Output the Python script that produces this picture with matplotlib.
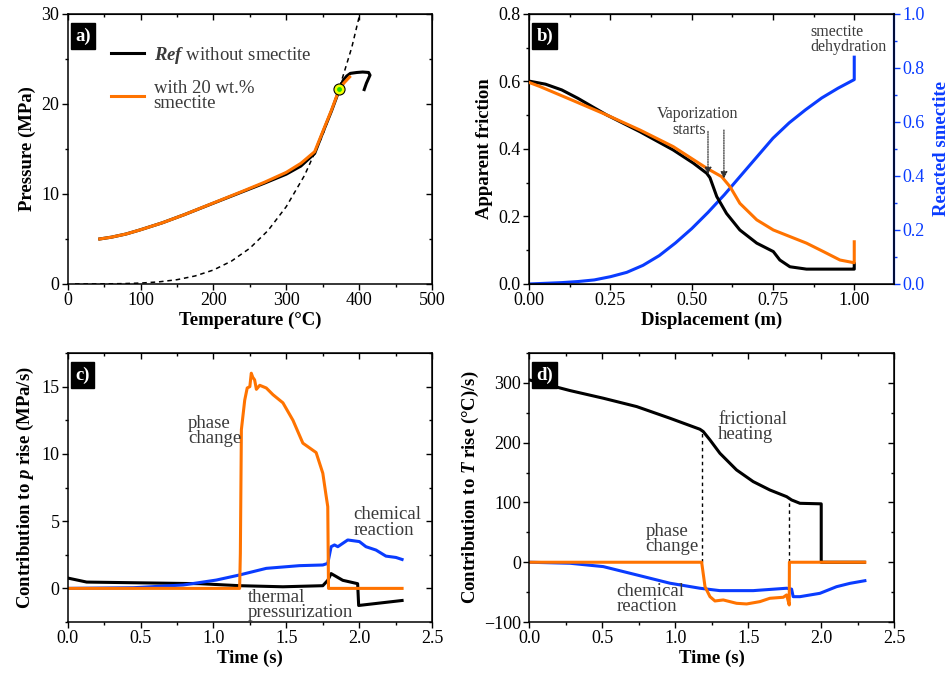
import matplotlib
matplotlib.use("Agg")
import matplotlib.pyplot as plt
from matplotlib.ticker import MultipleLocator, FormatStrFormatter

plt.rcParams["font.family"] = ["Liberation Serif", "DejaVu Serif"]
plt.rcParams["mathtext.fontset"] = "custom"
plt.rcParams["mathtext.rm"] = "Liberation Serif"
plt.rcParams["mathtext.it"] = "Liberation Serif:italic"
plt.rcParams["mathtext.bf"] = "Liberation Serif:bold"
plt.rcParams["mathtext.bfit"] = "Liberation Serif:bold:italic"

ORANGE = "#ff7300"
BLUE = "#0a3cff"
TXT = "#3a3a3a"

# ---- panel a: pressure vs temperature ----
a_ref_T = [44, 60, 80, 99, 130, 160, 200, 240, 270, 300, 320, 339, 350, 362, 373, 378,
           383, 388, 397, 405, 413, 415, 410, 407]
a_ref_P = [5.0, 5.2, 5.55, 6.0, 6.8, 7.7, 8.98, 10.25, 11.2, 12.2, 13.1, 14.5, 16.8, 19.2,
           21.6, 22.6, 23.1, 23.4, 23.5, 23.55, 23.5, 23.2, 22.3, 21.6]
a_sme_T = [44, 60, 80, 99, 130, 160, 200, 240, 270, 300, 320, 339, 350, 362, 373, 380, 387]
a_sme_P = [5.0, 5.2, 5.55, 6.0, 6.8, 7.7, 9.0, 10.3, 11.3, 12.4, 13.4, 14.7, 16.9, 19.3,
           21.7, 22.4, 23.0]
a_sat_T = [10, 25, 50, 75, 100, 125, 150, 175, 200, 225, 250, 275, 300, 325, 350, 374, 390, 401]
a_sat_P = [0.0, 0.003, 0.012, 0.039, 0.101, 0.232, 0.476, 0.892, 1.55, 2.55, 3.97, 5.94,
           8.59, 12.05, 16.53, 22.06, 26.3, 30.0]
a_dot = (373, 21.7)

# ---- panel b: friction & reacted smectite vs displacement ----
b_ref_d = [0.0, 0.05, 0.1, 0.15, 0.2, 0.238, 0.341, 0.443, 0.505, 0.546, 0.556, 0.577, 0.607,
           0.648, 0.700, 0.751, 0.771, 0.802, 0.853, 0.999, 1.0, 1.0]
b_ref_f = [0.601, 0.592, 0.575, 0.550, 0.522, 0.501, 0.451, 0.397, 0.358, 0.328, 0.315, 0.259,
           0.209, 0.160, 0.121, 0.096, 0.071, 0.051, 0.044, 0.044, 0.044, 0.06]
b_sme_d = [0.0, 0.033, 0.136, 0.238, 0.341, 0.443, 0.546, 0.592, 0.618, 0.648, 0.700, 0.751,
           0.853, 0.905, 0.956, 0.999, 1.0, 1.0]
b_sme_f = [0.597, 0.585, 0.543, 0.501, 0.456, 0.407, 0.343, 0.318, 0.288, 0.239, 0.190,
           0.160, 0.121, 0.096, 0.071, 0.063, 0.063, 0.125]
b_rea_d = [0.0, 0.1, 0.15, 0.2, 0.25, 0.3, 0.35, 0.4, 0.45, 0.5, 0.55, 0.6, 0.65, 0.7, 0.75,
           0.8, 0.85, 0.9, 0.95, 1.0, 1.0]
b_rea_r = [0.0, 0.005, 0.009, 0.015, 0.027, 0.043, 0.069, 0.105, 0.152, 0.205, 0.265, 0.33,
           0.40, 0.47, 0.54, 0.597, 0.645, 0.689, 0.725, 0.757, 0.84]
b_vap_d = [0.550, 0.599]
b_vap_top = [0.452, 0.456]
b_vap_bot = [0.325, 0.312]

# ---- panel c: contribution to p rise ----
c_tp_t = [0.0, 0.13, 0.45, 0.906, 1.18, 1.477, 1.751, 1.785, 1.808, 1.888, 1.99, 1.997, 2.295]
c_tp_v = [0.77, 0.47, 0.42, 0.35, 0.2, 0.12, 0.2, 0.6, 1.1, 0.6, 0.35, -1.27, -0.9]
c_ph_t = [0.0, 1.180, 1.185, 1.192, 1.215, 1.232, 1.250, 1.260, 1.270, 1.283, 1.295, 1.318,
          1.363, 1.409, 1.477, 1.546, 1.614, 1.705, 1.751, 1.772, 1.785, 1.790, 2.295]
c_ph_v = [0.0, 0.0, 2.6, 11.8, 14.0, 14.9, 15.0, 16.0, 15.7, 15.5, 14.8, 15.1, 14.9, 14.4,
          13.8, 12.5, 10.8, 10.1, 8.56, 7.0, 6.07, 0.0, 0.0]
c_ch_t = [0.0, 0.45, 0.792, 1.02, 1.18, 1.363, 1.59, 1.751, 1.785, 1.808, 1.831, 1.854, 1.922,
          2.002, 2.047, 2.116, 2.184, 2.253, 2.295]
c_ch_v = [0.0, 0.05, 0.25, 0.62, 1.0, 1.49, 1.69, 1.74, 1.86, 3.10, 3.23, 3.1, 3.6, 3.48, 3.1,
          2.85, 2.4, 2.3, 2.15]

# ---- panel d: contribution to T rise ----
d_fh_t = [0.0, 0.279, 0.507, 0.736, 0.964, 1.169, 1.192, 1.238, 1.306, 1.420, 1.534, 1.648,
          1.763, 1.797, 1.854, 2.0, 2.0, 2.295]
d_fh_v = [305.0, 287.2, 274.4, 260.4, 240.9, 222.5, 218.6, 204.6, 182.3, 154.4, 134.9, 120.9,
          109.7, 104.2, 98.6, 97.7, 0.0, 0.0]
d_ph_t = [0.0, 1.181, 1.204, 1.238, 1.272, 1.329, 1.420, 1.489, 1.580, 1.648, 1.740, 1.763,
          1.781, 1.782, 2.299]
d_ph_v = [0.0, 0.0, -40.9, -57.6, -64.8, -63.1, -68.7, -69.8, -65.9, -60.3, -58.6, -54.7,
          -71.5, 0.0, 0.0]
d_ch_t = [0.0, 0.279, 0.507, 0.736, 0.964, 1.169, 1.306, 1.534, 1.763, 1.797, 1.808, 1.854,
          1.991, 2.105, 2.197, 2.299]
d_ch_v = [0.0, -1.7, -7.3, -21.2, -35.1, -43.5, -47.5, -47.5, -43.5, -45.0, -57.6, -57.6,
          -52.0, -40.9, -35.3, -30.9]
d_lines_t = [1.18, 1.78]
d_lines_top = [220, 106]

FS_TICK = 13
FS_LAB = 13.5
FS_NOTE = 13.5


def style_axis(ax, xmaj, xmin, ymaj, ymin, right=True):
    ax.xaxis.set_major_locator(MultipleLocator(xmaj))
    ax.xaxis.set_minor_locator(MultipleLocator(xmin))
    ax.yaxis.set_major_locator(MultipleLocator(ymaj))
    ax.yaxis.set_minor_locator(MultipleLocator(ymin))
    ax.tick_params(which="major", direction="out", length=4, width=1, labelsize=FS_TICK, pad=2)
    ax.tick_params(which="minor", direction="out", length=2.5, width=1)
    for s in ax.spines.values():
        s.set_linewidth(1.1)
    top = ax.secondary_xaxis("top")
    top.xaxis.set_major_locator(MultipleLocator(xmaj))
    top.xaxis.set_minor_locator(MultipleLocator(xmin))
    top.tick_params(which="major", direction="in", length=4, width=1, labeltop=False)
    top.tick_params(which="minor", direction="in", length=2.5, width=1)
    if right:
        rt = ax.secondary_yaxis("right")
        rt.yaxis.set_major_locator(MultipleLocator(ymaj))
        rt.yaxis.set_minor_locator(MultipleLocator(ymin))
        rt.tick_params(which="major", direction="in", length=4, width=1, labelright=False)
        rt.tick_params(which="minor", direction="in", length=2.5, width=1)


def panel_tag(ax, s):
    ax.text(0.02, 0.95, s, transform=ax.transAxes, ha="left", va="top", color="white",
            fontsize=13.5, fontweight="bold",
            bbox=dict(facecolor="black", edgecolor="black", boxstyle="square,pad=0.22"))


fig = plt.figure(figsize=(9.51, 6.75), dpi=100)
ax_a = fig.add_axes([0.0712, 0.5793, 0.3830, 0.4000])
ax_b = fig.add_axes([0.5565, 0.5793, 0.3838, 0.4000])
ax_c = fig.add_axes([0.0712, 0.0785, 0.3830, 0.3985])
ax_d = fig.add_axes([0.5565, 0.0785, 0.3838, 0.3985])

# a)
ax_a.plot(a_sat_T, a_sat_P, color="black", lw=1.1, ls=(0, (3, 2.5)))
ax_a.plot(a_ref_T, a_ref_P, color="black", lw=2.2, label=r"$\mathbfit{Ref}$ without smectite")
ax_a.plot(a_sme_T, a_sme_P, color=ORANGE, lw=2.2, label="with 20 wt.%\nsmectite")
ax_a.plot(*a_dot, "o", ms=8, mfc="#f0ff00", mec="black", mew=0.8)
ax_a.plot(*a_dot, "o", ms=3.5, mfc="#22dd00", mec="none")
ax_a.set_xlim(0, 500)
ax_a.set_ylim(0, 30)
ax_a.set_xlabel("Temperature (°C)", fontsize=FS_LAB, fontweight="bold", labelpad=2)
ax_a.set_ylabel("Pressure (MPa)", fontsize=FS_LAB, fontweight="bold", labelpad=4)
style_axis(ax_a, 100, 50, 10, 5)
leg = ax_a.legend(loc="upper left", bbox_to_anchor=(0.12, 0.885), frameon=False,
                  fontsize=FS_NOTE, handlelength=1.75, handletextpad=0.5, labelspacing=0.75,
                  borderaxespad=0, borderpad=0)
for t in leg.get_texts():
    t.set_color(TXT)
    t.set_linespacing(0.85)
panel_tag(ax_a, "a)")

# b)
ax_b2 = ax_b.twinx()
ax_b2.plot(b_rea_d, b_rea_r, color=BLUE, lw=2.2)
ax_b.plot(b_ref_d, b_ref_f, color="black", lw=2.2, zorder=3)
ax_b.plot(b_sme_d, b_sme_f, color=ORANGE, lw=2.2, zorder=3)
ax_b.set_zorder(ax_b2.get_zorder() + 1)
ax_b.patch.set_visible(False)
ax_b.set_xlim(0, 1.123)
ax_b.set_ylim(0, 0.8)
ax_b2.set_ylim(0, 1.0)
style_axis(ax_b, 0.25, 0.125, 0.2, 0.1, right=False)
ax_b2.yaxis.set_major_locator(MultipleLocator(0.2))
ax_b2.yaxis.set_minor_locator(MultipleLocator(0.1))
ax_b2.yaxis.set_major_formatter(FormatStrFormatter("%.1f"))
ax_b.yaxis.set_major_formatter(FormatStrFormatter("%.1f"))
ax_b.xaxis.set_major_formatter(FormatStrFormatter("%.2f"))
ax_b2.tick_params(which="major", direction="out", length=4, width=1, colors=BLUE,
                  labelsize=FS_TICK, pad=2)
ax_b2.tick_params(which="minor", direction="out", length=2.5, width=1, colors=BLUE)
ax_b2.spines["right"].set_color(BLUE)
ax_b2.spines["right"].set_linewidth(1.6)
ax_b2.set_ylabel("Reacted smectite", fontsize=FS_LAB, fontweight="bold", color=BLUE, labelpad=6)
ax_b.set_xlabel("Displacement (m)", fontsize=FS_LAB, fontweight="bold", labelpad=2)
ax_b.set_ylabel("Apparent friction", fontsize=FS_LAB, fontweight="bold", labelpad=4)
for d, y0, y1 in zip(b_vap_d, b_vap_top, b_vap_bot):
    ax_b.annotate("", xy=(d, y1), xytext=(d, y0),
                  arrowprops=dict(arrowstyle="-|>", color="#333333", lw=0.9, ls=(0, (1, 1)),
                                  mutation_scale=10, shrinkA=0, shrinkB=0), zorder=4)
ax_b.text(0.518, 0.505, "Vaporization", ha="center", va="center", fontsize=11.5, color=TXT)
ax_b.text(0.543, 0.455, "starts", ha="right", va="center", fontsize=11.5, color=TXT)
ax_b.text(0.866, 0.748, "smectite", ha="left", va="center", fontsize=11.5, color=TXT)
ax_b.text(0.866, 0.701, "dehydration", ha="left", va="center", fontsize=11.5, color=TXT)
panel_tag(ax_b, "b)")

# c)
ax_c.plot(c_tp_t, c_tp_v, color="black", lw=2.2)
ax_c.plot(c_ch_t, c_ch_v, color=BLUE, lw=2.2)
ax_c.plot(c_ph_t, c_ph_v, color=ORANGE, lw=2.2)
ax_c.set_xlim(0, 2.5)
ax_c.set_ylim(-2.5, 17.5)
style_axis(ax_c, 0.5, 0.25, 5, 2.5)
ax_c.xaxis.set_major_formatter(FormatStrFormatter("%.1f"))
ax_c.set_xlabel("Time (s)", fontsize=FS_LAB, fontweight="bold", labelpad=2)
ax_c.set_ylabel(r"Contribution to $\mathbfit{p}$ rise (MPa/s)", fontsize=FS_LAB,
                fontweight="bold", labelpad=4)
kw = dict(fontsize=FS_NOTE, color=TXT, ha="left", va="center", linespacing=0.85)
ax_c.text(0.826, 11.7, "phase\nchange", **kw)
ax_c.text(1.961, 4.9, "chemical\nreaction", **kw)
ax_c.text(1.237, -1.23, "thermal\npressurization", **kw)
panel_tag(ax_c, "c)")

# d)
ax_d.vlines(d_lines_t, 0, d_lines_top, colors="black", lw=1.0, linestyles=(0, (2.5, 2.5)))
ax_d.plot(d_fh_t, d_fh_v, color="black", lw=2.2)
ax_d.plot(d_ch_t, d_ch_v, color=BLUE, lw=2.2)
ax_d.plot(d_ph_t, d_ph_v, color=ORANGE, lw=2.2)
ax_d.set_xlim(0, 2.5)
ax_d.set_ylim(-100, 350)
style_axis(ax_d, 0.5, 0.25, 100, 50)
ax_d.xaxis.set_major_formatter(FormatStrFormatter("%.1f"))
ax_d.set_xlabel("Time (s)", fontsize=FS_LAB, fontweight="bold", labelpad=2)
ax_d.set_ylabel(r"Contribution to $\mathbfit{T}$ rise (°C)/s)", fontsize=FS_LAB,
                fontweight="bold", labelpad=2)
ax_d.text(1.294, 227, "frictional\nheating", **kw)
ax_d.text(0.797, 38.5, "phase\nchange", **kw)
ax_d.text(0.598, -61.7, "chemical\nreaction", **kw)
panel_tag(ax_d, "d)")

fig.savefig("out.png", dpi=100)
